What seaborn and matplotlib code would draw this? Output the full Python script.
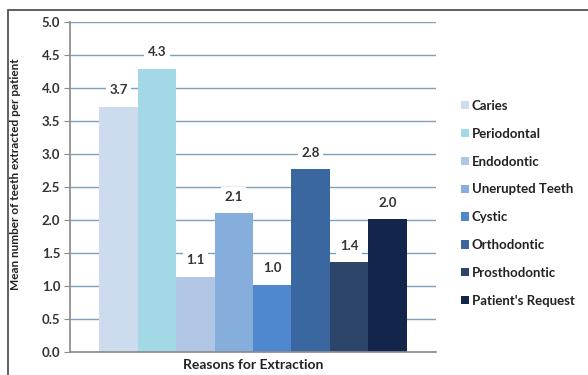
import matplotlib
matplotlib.use("Agg")
import matplotlib.pyplot as plt
import seaborn as sns
import pandas as pd
from matplotlib.patches import Rectangle

reasons = ["Caries", "Periodontal", "Endodontic", "Unerupted Teeth", "Cystic",
           "Orthodontic", "Prosthodontic", "Patient's Request"]
values = [3.71, 4.29, 1.14, 2.10, 1.02, 2.77, 1.36, 2.01]
labels = ["3.7", "4.3", "1.1", "2.1", "1.0", "2.8", "1.4", "2.0"]
colors = ["#CCDCEE", "#A3D8E6", "#B0C6E4", "#86AEDC", "#4F88CF",
          "#3A67A0", "#2B4468", "#13254A"]
yticks = [0.0, 0.5, 1.0, 1.5, 2.0, 2.5, 3.0, 3.5, 4.0, 4.5, 5.0]

sns.set_theme(style="white")
plt.rcParams['font.family'] = ['Lato', 'DejaVu Sans']

df = pd.DataFrame({"cat": ["x"] * len(reasons), "val": values, "reason": reasons})

fig = plt.figure(figsize=(5.88, 3.75), dpi=100)
ax = fig.add_axes([70/588, 1 - 352/375, (436-70)/588, (352-22)/375])

sns.barplot(data=df, x="cat", y="val", hue="reason", hue_order=reasons,
            palette=colors, width=0.84, gap=0, ax=ax, legend=True,
            saturation=1, linewidth=0, err_kws={"linewidth": 0})

ax.set_xlim(-0.5, 0.5)
ax.set_ylim(0, 5)
ax.set_yticks(yticks)
ax.set_yticklabels([f"{t:.1f}" for t in yticks], fontsize=9.5, fontweight="bold", color="#333333")
ax.set_xticks([])
ax.yaxis.grid(True, color="#7F9FBA", linewidth=1.0)
ax.set_axisbelow(True)
for s in ["top", "right"]:
    ax.spines[s].set_visible(False)
ax.spines["left"].set_color("#8C8C8C")
ax.spines["bottom"].set_color("#8C8C8C")
ax.tick_params(axis="y", left=True, length=4, width=0.8, color="#8C8C8C", pad=3)

ax.set_xlabel("Reasons for Extraction", fontsize=10, fontweight="bold", color="#222222")
ax.xaxis.set_label_coords(0.5, -7/330, transform=ax.transAxes)
ax.set_ylabel("Mean number of teeth extracted per patient", fontsize=8.5,
              fontweight="bold", color="#222222")
ax.yaxis.set_label_coords(-49/366, 0.54)

for cont, lab in zip(ax.containers, labels):
    for bar in cont:
        x = bar.get_x() + bar.get_width() / 2
        h = bar.get_height()
        ax.annotate(lab, (x, h), xytext=(0, 12), textcoords="offset points",
                    ha="center", va="center", fontsize=9.5, fontweight="bold", color="#333333",
                    bbox=dict(facecolor="white", edgecolor="none", pad=2.5))

handles, labs = ax.get_legend_handles_labels()
ax.legend(handles, labs, loc="upper left", bbox_to_anchor=(1.035, 0.80),
          frameon=False, prop={"weight": "bold", "size": 9.5},
          handlelength=0.6, handleheight=0.6, handletextpad=0.25,
          labelspacing=1.2, labelcolor="#222222")

fig.patches.append(Rectangle((8/588, -0.1), 1.0, 1 - 10/375 + 0.1,
                             transform=fig.transFigure, fill=False,
                             edgecolor="#444444", linewidth=1.2))

fig.savefig("out.png", dpi=100)
